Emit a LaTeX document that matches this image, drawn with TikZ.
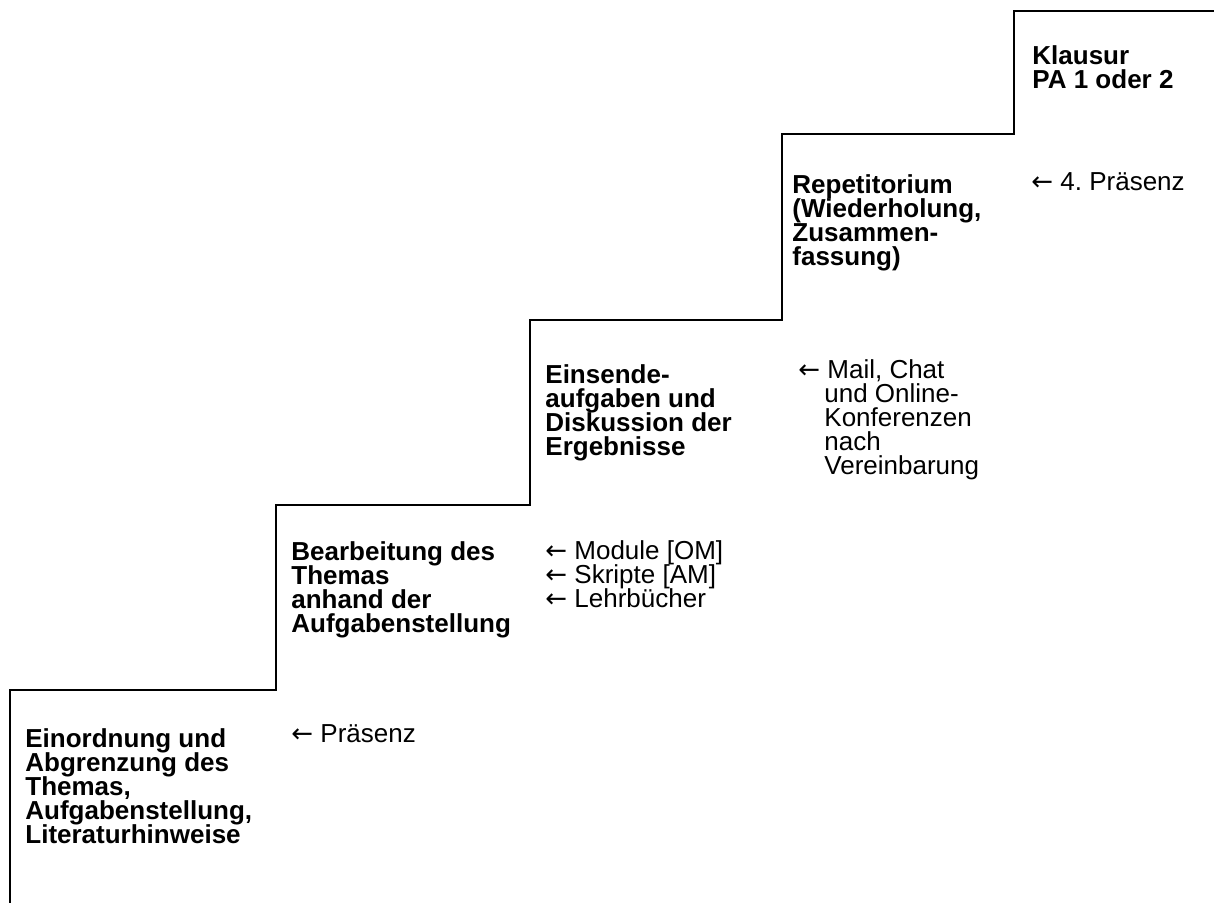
\documentclass[tikz,border=0pt]{standalone}
\usepackage{fontspec}
\setmainfont{Liberation Sans}
\newfontfamily\pfeilfont{DejaVu Sans}
\usepackage{tikz}
\newcommand{\pfeil}{{\pfeilfont\fontsize{13}{12}\selectfont ←}}
\newcommand{\zeilen}{\fontsize{13}{12}\selectfont\lineskiplimit=-20pt\relax}
\tikzstyle{stufe} = [anchor=base west, inner sep=0pt, align=left, font=\zeilen\bfseries]
\tikzstyle{mittel} = [anchor=base west, inner sep=0pt, align=left, font=\zeilen]
\tikzstyle{treppe} = [draw, black, line width=1pt]

\begin{document}
\begin{tikzpicture}[x=0.5pt, y=-0.5pt]
            \useasboundingbox (0,0) rectangle (1214,903);
                % Treppe
                \path [treppe] (10,903) -- (10,690) -- (276,690) -- (276,505)
                    -- (530,505) -- (530,320) -- (782,320) -- (782,134)
                    -- (1014,134) -- (1014,11) -- (1214,11);
                % Stufen (Grundlinie der letzten Zeile)
                \node [stufe] (einordnung) at (25,843) {Einordnung und\\Abgrenzung des\\Themas,\\Aufgabenstellung,\\Literaturhinweise};
                \node [stufe] (bearbeitung) at (291,632) {Bearbeitung des\\Themas\\anhand der\\Aufgabenstellung};
                \node [stufe] (einsende) at (545,455) {Einsende-\\aufgaben und\\Diskussion der\\Ergebnisse};
                \node [stufe] (repetitorium) at (792,266) {Repetitorium\\(Wiederholung,\\Zusammen-\\fassung)};
                \node [stufe] (klausur) at (1032,89) {Klausur\\PA 1 oder 2};
                % Mittel
                \node [mittel] (praesenz) at (291,742) {\pfeil\ Präsenz};
                \node [mittel] (material) at (545,607) {\pfeil\ Module [OM]\\\pfeil\ Skripte [AM]\\\pfeil\ Lehrbücher};
                \node [mittel] (kontakt) at (798,474) {\pfeil\ Mail, Chat\\\hspace*{13pt}und Online-\\\hspace*{13pt}Konferenzen\\\hspace*{13pt}nach\\\hspace*{13pt}Vereinbarung};
                \node [mittel] (praesenz4) at (1031,191) {\pfeil\ 4.\ Präsenz};
            \end{tikzpicture}
\end{document}
